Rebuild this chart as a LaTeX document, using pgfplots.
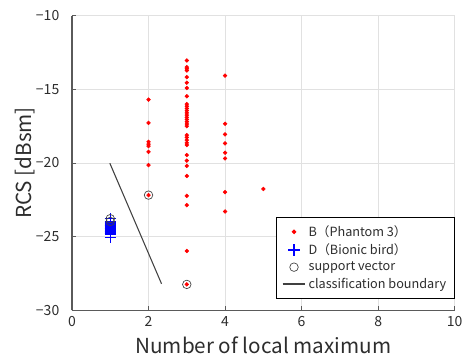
\documentclass[border=0pt]{standalone}
\usepackage{pgfplots}
\pgfplotsset{compat=1.18}
\usepackage{fontspec}
\setmainfont{Noto Sans CJK JP}
\definecolor{axgray}{RGB}{90,90,90}
\definecolor{gridgray}{RGB}{225,225,225}
\definecolor{txtgray}{RGB}{45,45,45}
\begin{document}
\begin{tikzpicture}
\begin{axis}[
  scale only axis,
  width=287pt, height=221pt,
  xmin=0, xmax=10, ymin=-30, ymax=-10,
  xtick={0,2,4,6,8,10},
  ytick={-30,-25,-20,-15,-10},
  yticklabels={−30,−25,−20,−15,−10},
  axis x line*=bottom, axis y line*=left,
  axis line style={axgray, line width=0.8pt, -},
  tick style={axgray, line width=0.6pt},
  major tick length=3pt,
  tick align=inside,
  grid=major,
  major grid style={gridgray, line width=0.6pt},
  ticklabel style={font=\fontsize{10.5}{12}\selectfont, text=txtgray},
  yticklabel style={xshift=-6pt},
  xticklabel style={yshift=-1pt},
  /pgf/number format/assume math mode=true,
  xlabel={Number of local maximum},
  ylabel={RCS [dBsm]},
  label style={font=\fontsize{15.5}{18}\selectfont, text=txtgray},
  xlabel style={at={(axis description cs:0.5,-0.118)}, anchor=center},
  ylabel style={at={(axis description cs:-0.123,0.5)}, anchor=center},
  legend style={at={(1,0.04)}, anchor=south east, draw=black, line width=0.6pt,
    font=\fontsize{9.5}{11}\selectfont, text=txtgray, row sep=0pt, inner sep=4pt,
    legend cell align=left},
  clip=false,
]
% B (Phantom 3)
\addplot[only marks, mark=*, mark size=1.4pt, color=red, mark options={draw=red, fill=red}] coordinates {
 (2,-15.70) (2,-17.28) (2,-18.56) (2,-18.72) (2,-18.85) (2,-19.24) (2,-20.14) (2,-22.18)
 (3,-13.04) (3,-13.49) (3,-13.60) (3,-13.72) (3,-14.17) (3,-14.55) (3,-14.91) (3,-15.47)
 (3,-16.0) (3,-16.15) (3,-16.3) (3,-16.45) (3,-16.6) (3,-16.75) (3,-16.9) (3,-17.05) (3,-17.2) (3,-17.35) (3,-17.5)
 (3,-18.11) (3,-18.26) (3,-18.45) (3,-18.63) (3,-18.78) (3,-19.46) (3,-19.84) (3,-20.20) (3,-20.88)
 (3,-22.23) (3,-22.86) (3,-25.97) (3,-28.24)
 (4,-14.07) (4,-17.34) (4,-18.06) (4,-18.67) (4,-19.30) (4,-19.69) (4,-21.98) (4,-23.29)
 (5,-21.76)
};
\addlegendentry{B（Phantom 3）}
% D (Bionic bird)
\addplot[only marks, mark=+, mark size=4.2pt, color=blue, mark options={draw=blue, line width=0.8pt}] coordinates {
 (1,-23.78) (1,-23.97) (1,-24.07) (1,-24.12) (1,-24.17) (1,-24.22) (1,-24.27) (1,-24.32) (1,-24.37)
 (1,-24.42) (1,-24.47) (1,-24.52) (1,-24.57) (1,-24.62) (1,-24.67) (1,-24.72) (1,-24.77) (1,-24.82) (1,-25.07)
};
\addlegendentry{D（Bionic bird）}
% support vectors
\addplot[only marks, mark=o, mark size=3.2pt, color=black!75, mark options={line width=0.5pt}] coordinates {
 (1,-23.78) (1,-23.97) (2,-22.18) (3,-28.24)
};
\addlegendentry{support vector}
% classification boundary
\addplot[color=black!75, line width=0.8pt, no marks] coordinates {
 (0.99,-20.02) (2.34,-28.2)
};
\addlegendentry{classification boundary}
\end{axis}
\pgfresetboundingbox
\path[use as bounding box] (-54pt,-38pt) rectangle (294pt,232.75pt);
\end{tikzpicture}
\end{document}
